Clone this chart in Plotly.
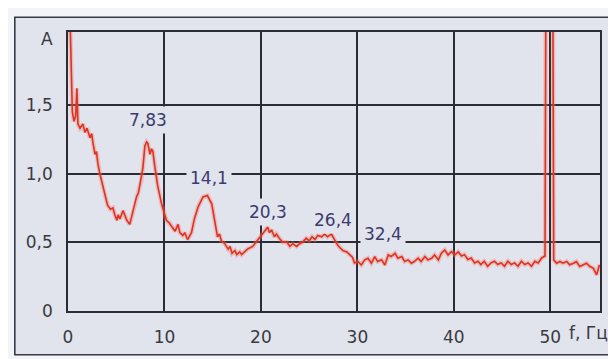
import plotly.graph_objects as go

# ---- data ----
freq_hz = [
    0.15, 0.45, 0.62, 0.80, 0.92, 1.03, 1.25, 1.55, 1.75, 1.97, 2.28, 2.45, 2.60, 2.80, 2.95,
    3.10, 3.30, 3.60, 3.85, 4.10, 4.40, 4.66, 4.85, 5.07, 5.20, 5.38, 5.70, 5.90, 6.10, 6.40,
    6.70, 6.90, 7.10, 7.30, 7.45, 7.60, 7.76, 7.97, 8.15, 8.28, 8.50, 8.65, 8.80, 9.00, 9.30,
    9.70, 10.0, 10.2, 10.5, 10.8, 11.1, 11.4, 11.6, 11.9, 12.1, 12.4, 12.8, 13.1, 13.5, 14.0,
    14.45, 14.9, 15.2, 15.5, 15.7, 15.9, 16.25, 16.6, 16.8, 17.0, 17.3, 17.5, 17.8, 18.0, 18.3,
    18.6, 19.15, 19.7, 20.1, 20.4, 20.7, 20.9, 21.1, 21.4, 21.6, 21.9, 22.25, 22.7, 23.0, 23.3,
    23.7, 24.0, 24.3, 24.7, 25.0, 25.3, 25.6, 25.9, 26.3, 26.6, 26.9, 27.3, 27.6, 27.95, 28.2,
    28.5, 28.9, 29.2, 29.5, 29.7, 30.06, 30.4, 30.76, 31.1, 31.45, 31.8, 32.1, 32.5, 32.85, 33.2,
    33.5, 33.9, 34.2, 34.6, 34.9, 35.25, 35.6, 35.9, 36.3, 36.6, 37.0, 37.3, 37.7, 38.0, 38.4,
    38.7, 39.05, 39.4, 39.75, 40.1, 40.45, 40.8, 41.1, 41.45, 41.8, 42.15, 42.5, 42.8, 43.15, 43.5,
    43.85, 44.2, 44.55, 44.9, 45.25, 45.6, 45.95, 46.3, 46.65, 47.0, 47.35, 47.7, 48.05, 48.4, 48.75,
    49.1, 49.45, 49.55, 50.25, 50.35, 50.65, 51.0, 51.3, 51.7, 52.0, 52.4, 52.7, 53.05, 53.4, 53.75,
    54.1, 54.45, 54.8, 54.95, 55.1,
]
amplitude = [
    2.30, 1.45, 1.38, 1.42, 1.62, 1.36, 1.33, 1.36, 1.30, 1.33, 1.26, 1.29, 1.22, 1.14, 1.16,
    1.07, 1.00, 0.91, 0.84, 0.77, 0.74, 0.75, 0.70, 0.66, 0.70, 0.67, 0.73, 0.69, 0.66, 0.63,
    0.71, 0.76, 0.83, 0.86, 0.92, 0.95, 1.04, 1.20, 1.23, 1.22, 1.14, 1.18, 1.16, 1.05, 0.91,
    0.78, 0.70, 0.66, 0.64, 0.61, 0.58, 0.63, 0.57, 0.55, 0.57, 0.52, 0.57, 0.67, 0.76, 0.83,
    0.84, 0.78, 0.67, 0.54, 0.56, 0.51, 0.49, 0.45, 0.47, 0.42, 0.44, 0.41, 0.43, 0.41, 0.43,
    0.45, 0.47, 0.52, 0.55, 0.58, 0.61, 0.57, 0.59, 0.54, 0.56, 0.53, 0.50, 0.50, 0.47, 0.49,
    0.47, 0.49, 0.50, 0.53, 0.51, 0.54, 0.52, 0.55, 0.54, 0.56, 0.54, 0.56, 0.52, 0.48, 0.46,
    0.44, 0.43, 0.41, 0.39, 0.35, 0.36, 0.335, 0.372, 0.384, 0.348, 0.396, 0.36, 0.372, 0.335, 0.408,
    0.396, 0.42, 0.384, 0.396, 0.36, 0.372, 0.348, 0.36, 0.384, 0.36, 0.396, 0.372, 0.384, 0.408, 0.372,
    0.42, 0.444, 0.408, 0.432, 0.408, 0.43, 0.40, 0.41, 0.375, 0.386, 0.35, 0.362, 0.338, 0.362, 0.326,
    0.35, 0.362, 0.338, 0.35, 0.326, 0.362, 0.338, 0.35, 0.326, 0.362, 0.338, 0.35, 0.326, 0.362, 0.35,
    0.386, 0.40, 2.60, 2.60, 0.372, 0.348, 0.36, 0.348, 0.36, 0.336, 0.348, 0.36, 0.324, 0.336, 0.348,
    0.324, 0.312, 0.263, 0.30, 0.336,
]

x_ticks = [0, 10, 20, 30, 40, 50]
x_tick_labels = ["0", "10", "20", "30", "40", "50"]
y_ticks = [0, 0.5, 1.0, 1.5]
y_tick_labels = ["0", "0,5", "1,0", "1,5"]

peak_labels = ["7,83", "14,1", "20,3", "26,4", "32,4"]
peak_label_x = [8.25, 14.57, 20.7, 27.5, 32.7]
peak_label_y = [1.39, 0.97, 0.72, 0.66, 0.56]

# ---- styling ----
BG = "#e1e4ed"
PAPER = "#f3f4f8"
GRID = "#2c2c34"
RED = "#e0321e"
TEXT = "#3a3a3e"
NAVY = "#3b3b6e"
FONT = "DejaVu Sans"

fig = go.Figure()
fig.add_trace(go.Scatter(x=freq_hz, y=amplitude, mode="lines",
                         line=dict(color="rgba(240,120,110,0.35)", width=4.5),
                         hoverinfo="skip", showlegend=False))
fig.add_trace(go.Scatter(x=freq_hz, y=amplitude, mode="lines",
                         line=dict(color=RED, width=1.6), showlegend=False))

for txt, xv, yv in zip(peak_labels, peak_label_x, peak_label_y):
    fig.add_annotation(x=xv, y=yv, xref="x", yref="y", text=txt, showarrow=False,
                       font=dict(family=FONT, size=17, color=NAVY),
                       bgcolor=BG, borderpad=3, xanchor="center", yanchor="middle")

fig.add_annotation(x=-0.0404, y=0.975, xref="paper", yref="paper", text="A", showarrow=False,
                   font=dict(family=FONT, size=17, color=TEXT), xanchor="center", yanchor="middle")
fig.add_annotation(x=0.938, y=-0.078, xref="paper", yref="paper", text="f, Гц", showarrow=False,
                   font=dict(family=FONT, size=17, color=TEXT), xanchor="left", yanchor="middle")

# outer frame of the figure
fig.add_shape(type="rect", xref="paper", yref="paper", x0=-0.1, x1=1.2, y0=-0.157, y1=1.053,
              line=dict(color="#3a3a42", width=1.6), fillcolor=BG, layer="below")

axis_common = dict(showgrid=True, gridcolor=GRID, gridwidth=1.6, zeroline=False,
                   showline=True, mirror=True, linecolor=GRID, linewidth=1.6,
                   ticks="outside", ticklen=10, tickcolor="rgba(0,0,0,0)",
                   tickfont=dict(family=FONT, size=17, color=TEXT), fixedrange=True)

fig.update_xaxes(range=[0, 55.15], tickmode="array", tickvals=x_ticks, ticktext=x_tick_labels,
                 **axis_common)
fig.update_yaxes(range=[0, 2.03], tickmode="array", tickvals=y_ticks, ticktext=y_tick_labels,
                 **axis_common)

# the page adds an 8px body margin, so the figure is 8px smaller than the window
fig.update_layout(width=608, height=351, margin=dict(l=60, r=16, t=24, b=46),
                  paper_bgcolor=PAPER, plot_bgcolor=BG, showlegend=False)

fig.write_html("out.html")
